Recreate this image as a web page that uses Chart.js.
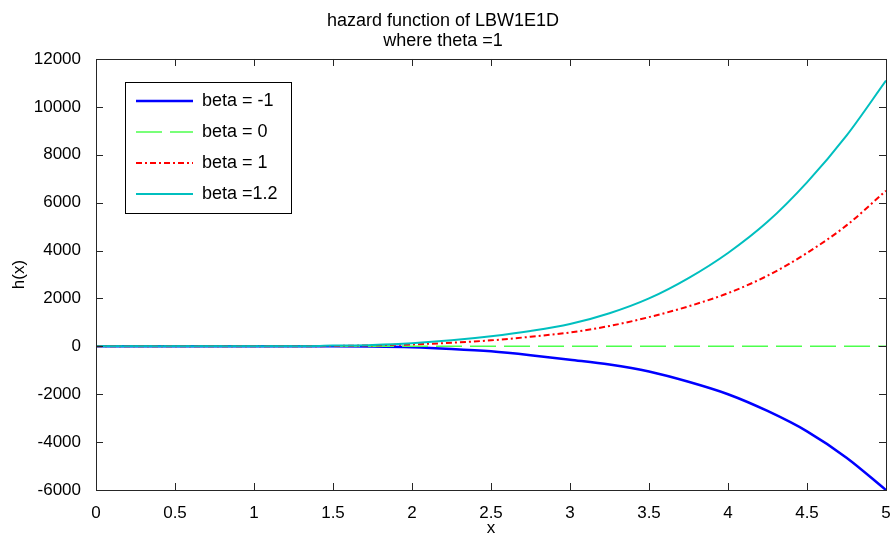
<!DOCTYPE html>
<html>
<head>
<meta charset="utf-8">
<script src="https://cdn.jsdelivr.net/npm/chart.js@4/dist/chart.umd.min.js"></script>
<style>
  body { margin: 0; background: #fff; }
  #wrap { width: 892px; height: 537px; }
</style>
</head>
<body>
<div id="wrap"><canvas id="hazardChart" width="892" height="537"></canvas></div>
<script>
// --- DATA ---
const xValues = [0, 0.25, 0.5, 0.75, 1, 1.25, 1.5, 1.75, 2, 2.25, 2.5, 2.75, 3, 3.25, 3.5, 3.75, 4, 4.25, 4.5, 4.75, 5];
const betaMinus1 = [0, 0, 0, 0, 0, 0, 0, -10, -40, -110, -210, -370, -560, -760, -1050, -1480, -2000, -2700, -3550, -4650, -6000];
const beta0      = [0, 0, 0, 0, 0, 0, 0, 0, 0, 0, 0, 0, 0, 0, 0, 0, 0, 0, 0, 0, 0];
const beta1      = [0, 0, 0, 0, 0, 0, 15, 40, 80, 150, 250, 400, 580, 850, 1220, 1670, 2220, 2950, 3900, 5050, 6500];
const beta12     = [0, 0, 0, 0, 0, 0, 30, 60, 130, 250, 420, 640, 930, 1380, 2000, 2850, 3900, 5200, 6850, 8800, 11100];
const seriesLabels = ['beta = -1', 'beta = 0', 'beta = 1', 'beta =1.2'];
const titleLines = ['hazard function of LBW1E1D', 'where theta =1'];

const FONT = '"Liberation Sans", Arial, sans-serif';
const toPoints = ys => xValues.map((x, i) => ({ x: x, y: ys[i] }));

// --- frame + inward ticks on all four sides ---
const framePlugin = {
    id: 'frame',
    afterDraw(chart) {
        const { ctx, chartArea: a, scales } = chart;
        const len = 7;
        ctx.save();
        ctx.strokeStyle = '#262626';
        ctx.lineWidth = 1;
        ctx.beginPath();
        scales.x.ticks.forEach(t => {
            const px = Math.round(scales.x.getPixelForValue(t.value)) + 0.5;
            ctx.moveTo(px, a.bottom); ctx.lineTo(px, a.bottom - len);
            ctx.moveTo(px, a.top); ctx.lineTo(px, a.top + len);
        });
        scales.y.ticks.forEach(t => {
            const py = Math.round(scales.y.getPixelForValue(t.value)) + 0.5;
            ctx.moveTo(a.left, py); ctx.lineTo(a.left + len, py);
            ctx.moveTo(a.right, py); ctx.lineTo(a.right - len, py);
        });
        ctx.stroke();
        ctx.strokeRect(Math.round(a.left) + 0.5, Math.round(a.top) + 0.5,
                       Math.round(a.right - a.left), Math.round(a.bottom - a.top));
        ctx.restore();
    }
};

// --- boxed legend inside the plot, upper left ---
const boxLegendPlugin = {
    id: 'boxLegend',
    afterDraw(chart) {
        const ctx = chart.ctx;
        const bx = 125, by = 82, bw = 166, bh = 131;
        ctx.save();
        ctx.fillStyle = '#fff';
        ctx.fillRect(bx, by, bw, bh);
        ctx.strokeStyle = '#000';
        ctx.lineWidth = 1;
        ctx.strokeRect(bx + 0.5, by + 0.5, bw, bh);
        ctx.font = '18px ' + FONT;
        ctx.textBaseline = 'middle';
        chart.data.datasets.forEach((ds, i) => {
            const y = by + 19 + i * 31;
            ctx.beginPath();
            ctx.strokeStyle = ds.borderColor;
            ctx.lineWidth = ds.borderWidth;
            ctx.setLineDash(ds.borderDash || []);
            ctx.moveTo(136, y);
            ctx.lineTo(193, y);
            ctx.stroke();
            ctx.setLineDash([]);
            ctx.fillStyle = '#000';
            ctx.fillText(ds.label, 202, y);
        });
        ctx.restore();
    }
};

new Chart(document.getElementById('hazardChart'), {
    type: 'line',
    data: {
        datasets: [
            { label: seriesLabels[0], data: toPoints(betaMinus1), borderColor: '#0000ff', borderWidth: 2.5, order: 4 },
            { label: seriesLabels[1], data: toPoints(beta0), borderColor: '#4cff4c', borderWidth: 1.5, borderDash: [26, 8], order: 3 },
            { label: seriesLabels[2], data: toPoints(beta1), borderColor: '#ff0000', borderWidth: 2, borderDash: [6, 3, 2, 3], order: 2 },
            { label: seriesLabels[3], data: toPoints(beta12), borderColor: '#00bfbf', borderWidth: 2, order: 1 }
        ]
    },
    options: {
        responsive: false,
        animation: false,
        cubicInterpolationMode: 'monotone',
        pointRadius: 0,
        layout: { padding: { left: 0, right: 6, top: 0, bottom: 0 } },
        plugins: {
            legend: { display: false },
            tooltip: { enabled: false },
            title: {
                display: true,
                text: titleLines,
                color: '#000',
                font: { family: FONT, size: 18, weight: 'normal', lineHeight: 1.111 },
                padding: { top: 11, bottom: 8 }
            }
        },
        scales: {
            x: {
                type: 'linear',
                min: 0, max: 5,
                grid: { display: false },
                border: { display: false },
                afterFit: s => { s.height = 47; s.paddingRight = 0; s.paddingLeft = 0; },
                ticks: {
                    stepSize: 0.5,
                    padding: 5,
                    color: '#000',
                    maxRotation: 0,
                    font: { family: FONT, size: 17 },
                    callback: v => String(v)
                },
                title: {
                    display: true, text: 'x', color: '#000',
                    font: { family: FONT, size: 17, lineHeight: 1 },
                    padding: { top: 0, bottom: 0 }
                }
            },
            y: {
                min: -6000, max: 12000,
                grid: { display: false },
                border: { display: false },
                afterFit: s => { s.width = 96; },
                ticks: {
                    stepSize: 2000,
                    padding: 7,
                    color: '#000',
                    font: { family: FONT, size: 17 },
                    callback: v => String(v)
                },
                title: {
                    display: true, text: 'h(x)', color: '#000',
                    font: { family: FONT, size: 17, lineHeight: 1 },
                    padding: { top: 10.5, bottom: 0 }
                }
            }
        }
    },
    plugins: [framePlugin, boxLegendPlugin]
});
</script>
</body>
</html>
